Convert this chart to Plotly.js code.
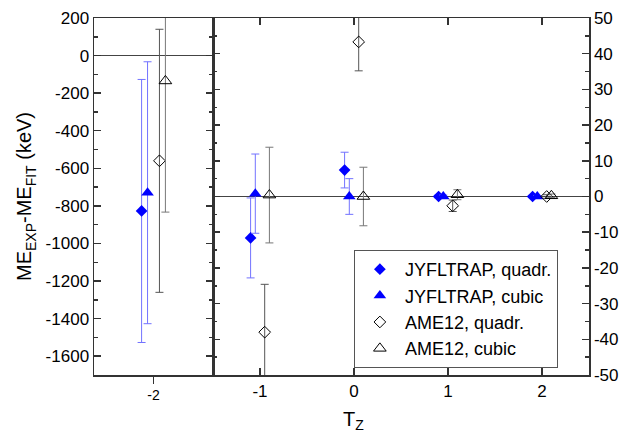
<!DOCTYPE html>
<html>
<head>
<meta charset="utf-8">
<script src="https://cdn.plot.ly/plotly-3.0.1.min.js"></script>
<style>html,body{margin:0;padding:0;background:#fff;}#chart{width:624px;height:434px;}</style>
</head>
<body>
<div id="chart"></div>
<script>
// ---- data ----
const tz = [-2, -1, 0, 1, 2];
const seriesNames = ["JYFLTRAP, quadr.", "JYFLTRAP, cubic", "AME12, quadr.", "AME12, cubic"];
const seriesOffset = [-0.1, -0.05, 0.05, 0.1];
const jyflQuad = [-827, -11.6, 7.4, 0, 0];
const jyflQuadErr = [700, 11.2, 5.0, 0.4, 0.3];
const jyflCubic = [-730, 0.8, 0.0, 0, 0];
const jyflCubicErr = [697, 11.1, 5.0, 0.4, 0.3];
const ameQuad = [-560, -38.0, 43.3, -2.6, 0];
const ameQuadErr = [700, 13.4, 8.1, 1.6, 0.5];
const ameCubic = [-135, 0.4, 0.0, 0.5, 0.2];
const ameCubicErr = [698, 13.4, 8.2, 1.4, 0.5];
const leftYTicks = [200, 0, -200, -400, -600, -800, -1000, -1200, -1400, -1600];
const leftYText = ["200", "0", "-200", "-400", "-600", "-800", "-1000", "-1200", "-1400", "-1600"];
const rightYTicks = [50, 40, 30, 20, 10, 0, -10, -20, -30, -40, -50];
const rightYText = ["50", "40", "30", "20", "10", "0", "-10", "-20", "-30", "-40", "-50"];
const leftXTicks = [-2];
const leftXText = ["-2"];
const rightXTicks = [-1, 0, 1, 2];
const rightXText = ["-1", "0", "1", "2"];

const values = [jyflQuad, jyflCubic, ameQuad, ameCubic];
const errors = [jyflQuadErr, jyflCubicErr, ameQuadErr, ameCubicErr];
const styles = [
  {marker: {symbol: "diamond", size: 9, color: "#0000ff", line: {width: 0}}, err: "#7272ff"},
  {marker: {symbol: "triangle-up", size: 11, color: "#0000ff", line: {width: 0}}, err: "#7272ff"},
  {marker: {symbol: "diamond-open", size: 9, color: "#000000", line: {width: 1}}, err: "#555555"},
  {marker: {symbol: "triangle-up-open", size: 11, color: "#000000", line: {width: 1}}, err: "#777777"}
];

const FONT = "'Liberation Sans', Arial, sans-serif";
const traces = [];
values.forEach((v, i) => {
  const xs = tz.map(t => t + seriesOffset[i]);
  // left panel (T = -2)
  traces.push({
    type: "scatter", mode: "markers", xaxis: "x", yaxis: "y",
    x: xs.slice(0, 1), y: v.slice(0, 1),
    error_y: {type: "data", array: errors[i].slice(0, 1), color: styles[i].err, thickness: 1, width: 4},
    marker: styles[i].marker, name: seriesNames[i], showlegend: false, cliponaxis: true
  });
  // right panel (T = -1 .. 2)
  traces.push({
    type: "scatter", mode: "markers", xaxis: "x2", yaxis: "y2",
    x: xs.slice(1), y: v.slice(1),
    error_y: {type: "data", array: errors[i].slice(1), color: styles[i].err, thickness: 1, width: 4},
    marker: styles[i].marker, name: seriesNames[i], showlegend: true, cliponaxis: true
  });
});

const split = 119 / 495;
const axLine = {showline: true, linecolor: "#333", linewidth: 1.5, showgrid: false, zeroline: false};
const layout = {
  width: 624, height: 434,
  margin: {l: 94, r: 35, t: 18, b: 59, pad: 0},
  paper_bgcolor: "#fff", plot_bgcolor: "#fff",
  font: {family: FONT, color: "#000", size: 17},
  showlegend: true,
  legend: {
    x: 0.525, y: 0.185, xanchor: "left", yanchor: "middle",
    bordercolor: "#555", borderwidth: 1, bgcolor: "#fff", itemwidth: 40,
    font: {family: FONT, size: 18, color: "#000"}, tracegroupgap: 0
  },
  xaxis: Object.assign({}, axLine, {
    domain: [0, split], range: [-2.5, -1.5], anchor: "y",
    tickmode: "array", tickvals: leftXTicks, ticktext: leftXText,
    ticks: "outside", ticklen: 7, tickwidth: 1.5, tickcolor: "#333", mirror: true,
    tickfont: {family: FONT, size: 14}
  }),
  xaxis3: {
    overlaying: "x", side: "top", anchor: "y", range: [-2.5, -1.5],
    tickmode: "array", tickvals: leftXTicks, ticks: "inside", ticklen: 7, tickwidth: 1.5, tickcolor: "#333",
    showticklabels: false, showline: false, showgrid: false, zeroline: false
  },
  xaxis2: Object.assign({}, axLine, {
    domain: [split, 1], range: [-1.5, 2.5], anchor: "y2",
    tickmode: "array", tickvals: rightXTicks, ticktext: rightXText,
    ticks: "inside", ticklen: 7, tickwidth: 1.5, tickcolor: "#333", mirror: "allticks",
    tickfont: {family: FONT, size: 17}
  }),
  yaxis: Object.assign({}, axLine, {
    domain: [0, 1], range: [-1700, 200], anchor: "x",
    tickmode: "array", tickvals: leftYTicks, ticktext: leftYText,
    ticks: "inside", ticklen: 7, tickwidth: 1.5, tickcolor: "#333", mirror: "allticks",
    minor: {tickmode: "linear", tick0: 0, dtick: 100, ticks: "inside", ticklen: 4, tickwidth: 1.5, tickcolor: "#333"},
    zeroline: true, zerolinecolor: "#444", zerolinewidth: 1,
    tickfont: {family: FONT, size: 17},
    title: {text: "ME<sub>EXP</sub>-ME<sub>FIT</sub> (keV)", font: {family: FONT, size: 20}, standoff: 8}
  }),
  yaxis2: Object.assign({}, axLine, {
    domain: [0, 1], range: [-50, 50], anchor: "x2", side: "right",
    tickmode: "array", tickvals: rightYTicks, ticktext: rightYText,
    ticks: "inside", ticklen: 7, tickwidth: 1.5, tickcolor: "#333", mirror: "allticks",
    minor: {tickmode: "linear", tick0: 0, dtick: 5, ticks: "inside", ticklen: 4, tickwidth: 1.5, tickcolor: "#333"},
    zeroline: true, zerolinecolor: "#444", zerolinewidth: 1,
    tickfont: {family: FONT, size: 17}
  }),
  annotations: [{
    text: "T<sub>Z</sub>", xref: "paper", yref: "paper", x: 0.525, y: -0.088,
    xanchor: "center", yanchor: "top", showarrow: false,
    font: {family: FONT, size: 20, color: "#000"}
  }]
};

Plotly.newPlot("chart", traces, layout, {staticPlot: true, displayModeBar: false});
</script>
</body>
</html>
